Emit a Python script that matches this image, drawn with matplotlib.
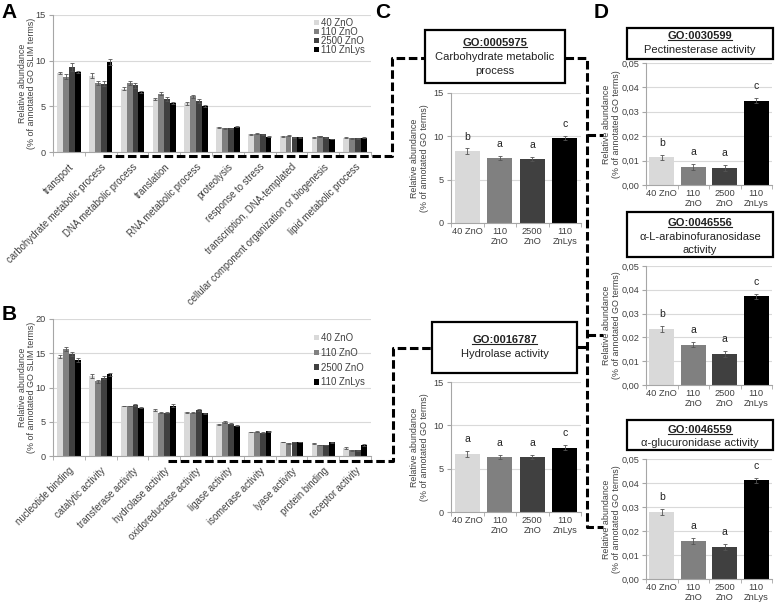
#!/usr/bin/env python3
"""GO term relative abundance: panels A-D (GO SLIM overview + selected terms)."""

import matplotlib
matplotlib.use("Agg")
import matplotlib.pyplot as plt
import numpy as np
from matplotlib.lines import Line2D
from matplotlib.patches import Rectangle
from matplotlib.ticker import FuncFormatter

plt.rcParams["font.family"] = ["Liberation Sans", "DejaVu Sans"]

W, H = 778, 605

SERIES = ["40 ZnO", "110 ZnO", "2500 ZnO", "110 ZnLys"]
COLORS = ["#d9d9d9", "#808080", "#404040", "#000000"]
BAR_TICKS = ["40 ZnO", "110\nZnO", "2500\nZnO", "110\nZnLys"]

# Panel A — biological process (GO SLIM)
A_CATS = ["transport", "carbohydrate metabolic process", "DNA metabolic process",
          "translation", "RNA metabolic process", "proteolysis", "response to stress",
          "transcription, DNA-templated",
          "cellular component organization or biogenesis", "lipid metabolic process"]
A_40 = [8.65, 8.35, 6.95, 5.8, 5.35, 2.7, 1.95, 1.7, 1.6, 1.55]
A_110 = [8.25, 7.55, 7.55, 6.4, 6.1, 2.62, 2.0, 1.78, 1.72, 1.48]
A_2500 = [9.3, 7.5, 7.3, 5.8, 5.55, 2.58, 1.95, 1.62, 1.62, 1.5]
A_LYS = [8.8, 9.85, 6.6, 5.4, 5.0, 2.78, 1.65, 1.6, 1.42, 1.55]
A_ERR_40 = [0.12, 0.3, 0.2, 0.15, 0.15, 0.05, 0.05, 0.05, 0.05, 0.04]
A_ERR_110 = [0.25, 0.25, 0.2, 0.2, 0.15, 0.05, 0.05, 0.05, 0.05, 0.04]
A_ERR_2500 = [0.4, 0.25, 0.3, 0.2, 0.2, 0.05, 0.05, 0.05, 0.05, 0.04]
A_ERR_LYS = [0.12, 0.3, 0.1, 0.1, 0.1, 0.05, 0.05, 0.04, 0.04, 0.04]

# Panel B — molecular function (GO SLIM)
B_CATS = ["nucleotide binding", "catalytic activity", "transferase activity",
          "hydrolase activity", "oxidoreductase activity", "ligase activity",
          "isomerase activity", "lyase activity", "protein binding", "receptor activity"]
B_40 = [14.5, 11.7, 7.3, 6.7, 6.4, 4.6, 3.5, 2.05, 1.85, 1.15]
B_110 = [15.6, 10.9, 7.3, 6.35, 6.3, 5.0, 3.55, 1.85, 1.6, 0.85]
B_2500 = [14.9, 11.45, 7.45, 6.35, 6.7, 4.7, 3.4, 2.05, 1.6, 0.85]
B_LYS = [14.0, 11.9, 7.05, 7.35, 6.25, 4.45, 3.6, 2.05, 2.0, 1.55]
B_ERR_40 = [0.25, 0.25, 0.05, 0.1, 0.08, 0.08, 0.05, 0.05, 0.12, 0.1]
B_ERR_110 = [0.3, 0.25, 0.05, 0.06, 0.06, 0.12, 0.05, 0.05, 0.05, 0.05]
B_ERR_2500 = [0.3, 0.25, 0.08, 0.06, 0.1, 0.06, 0.05, 0.05, 0.05, 0.05]
B_ERR_LYS = [0.3, 0.15, 0.05, 0.2, 0.06, 0.06, 0.05, 0.05, 0.08, 0.15]

# Panel C — selected GO terms (% of annotated GO terms)
C1_VALS = [8.3, 7.5, 7.4, 9.8]
C1_ERR = [0.3, 0.25, 0.2, 0.25]
C1_SIG = ["b", "a", "a", "c"]
C2_VALS = [6.7, 6.35, 6.35, 7.4]
C2_ERR = [0.3, 0.25, 0.25, 0.3]
C2_SIG = ["a", "a", "a", "c"]

# Panel D — carbohydrate-active terms
D1_VALS = [0.0113, 0.0073, 0.0069, 0.0346]
D1_ERR = [0.0012, 0.0013, 0.0013, 0.0010]
D1_SIG = ["b", "a", "a", "c"]
D2_VALS = [0.0237, 0.0170, 0.0131, 0.0373]
D2_ERR = [0.0013, 0.0012, 0.0012, 0.0010]
D2_SIG = ["b", "a", "a", "c"]
D3_VALS = [0.0279, 0.0158, 0.0134, 0.0411]
D3_ERR = [0.0013, 0.0013, 0.0012, 0.0010]
D3_SIG = ["b", "a", "a", "c"]

TXT = "#404040"
AXC = "#a6a6a6"
GRID = "#d9d9d9"


def fx(x):
    return x / W


def fy(y):
    return 1 - y / H


def add_axes(fig, x0, y0, x1, y1):
    return fig.add_axes([fx(x0), fy(y1), (x1 - x0) / W, (y1 - y0) / H])


def style(ax, n):
    for s in ("top", "right"):
        ax.spines[s].set_visible(False)
    for s in ("left", "bottom"):
        ax.spines[s].set_color(AXC)
        ax.spines[s].set_linewidth(0.8)
    ax.yaxis.grid(True, color=GRID, linewidth=0.8)
    ax.set_axisbelow(True)
    ax.set_xlim(-0.5, n - 0.5)
    ax.set_xticks(np.arange(n))
    ax.set_xticks(np.arange(n + 1) - 0.5, minor=True)
    ax.tick_params(axis="x", which="major", length=0)
    ax.tick_params(axis="x", which="minor", length=3, color=AXC)
    ax.tick_params(axis="y", length=3, color=AXC, labelsize=6.6,
                   labelcolor=TXT, pad=2)


def grouped(ax, cats, vals, errs, ymax, step, legend_kw):
    n = len(cats)
    x = np.arange(n)
    w = 0.74 / 4
    for i, (v, e) in enumerate(zip(vals, errs)):
        ax.bar(x + (i - 1.5) * w, v, w, yerr=e, color=COLORS[i], label=SERIES[i],
               error_kw=dict(ecolor="#555555", elinewidth=0.6, capsize=1.3,
                             capthick=0.6))
    style(ax, n)
    ax.set_ylim(0, ymax)
    ax.set_yticks(np.arange(0, ymax + 0.1, step))
    ax.set_xticklabels(cats, rotation=45, ha="right", rotation_mode="anchor",
                       fontsize=6.9, color=TXT)
    ax.tick_params(axis="x", which="major", pad=7)
    ax.set_ylabel("Relative abundance\n(% of annotated GO SLIM terms)",
                  fontsize=6.4, color=TXT, labelpad=-0.5, linespacing=1.1)
    leg = ax.legend(frameon=False, fontsize=6.9, handlelength=0.5, handleheight=0.5,
                    handletextpad=0.3, borderaxespad=0.2, **legend_kw)
    for t in leg.get_texts():
        t.set_color(TXT)


def single(ax, vals, errs, sig, ymax, step, fmt=None, labelpad=2):
    x = np.arange(len(vals))
    ax.bar(x, vals, 0.78, yerr=errs, color=COLORS,
           error_kw=dict(ecolor="#555555", elinewidth=0.6, capsize=1.5, capthick=0.6))
    style(ax, len(vals))
    ax.set_ylim(0, ymax)
    ax.set_yticks(np.arange(0, ymax + step / 2, step))
    if fmt:
        ax.yaxis.set_major_formatter(FuncFormatter(fmt))
    ax.set_xticklabels(BAR_TICKS, fontsize=6.7, color=TXT, linespacing=1.05)
    ax.tick_params(axis="x", which="major", pad=3)
    ax.set_ylabel("Relative abundance\n(% of annotated GO terms)",
                  fontsize=6.4, color=TXT, labelpad=labelpad, linespacing=1.1)
    for xi, v, e, s in zip(x, vals, errs, sig):
        ax.annotate(s, (xi, v + e), xytext=(0, 5), textcoords="offset points",
                    ha="center", va="bottom", fontsize=7.5, color="#222222")


def comma(v, _):
    return f"{v:.2f}".replace(".", ",")


fig = plt.figure(figsize=(W / 100, H / 100), dpi=100)

# Panel A
axA = add_axes(fig, 53, 15, 371, 152)
grouped(axA, A_CATS, [A_40, A_110, A_2500, A_LYS],
        [A_ERR_40, A_ERR_110, A_ERR_2500, A_ERR_LYS], 15, 5,
        dict(loc="upper right", bbox_to_anchor=(1.0, 1.02), labelspacing=-0.1))

# Panel B
axB = add_axes(fig, 53, 319, 371, 456)
grouped(axB, B_CATS, [B_40, B_110, B_2500, B_LYS],
        [B_ERR_40, B_ERR_110, B_ERR_2500, B_ERR_LYS], 20, 5,
        dict(loc="upper right", bbox_to_anchor=(1.0, 0.94), labelspacing=0.5))

# Panel C
axC1 = add_axes(fig, 451, 93, 581, 223)
single(axC1, C1_VALS, C1_ERR, C1_SIG, 15, 5, labelpad=3.5)
axC2 = add_axes(fig, 451, 382, 581, 512)
single(axC2, C2_VALS, C2_ERR, C2_SIG, 15, 5, labelpad=3.5)

# Panel D
axD1 = add_axes(fig, 646, 63, 772, 185)
single(axD1, D1_VALS, D1_ERR, D1_SIG, 0.05, 0.01, comma, labelpad=0)
axD2 = add_axes(fig, 646, 266, 772, 385)
single(axD2, D2_VALS, D2_ERR, D2_SIG, 0.05, 0.01, comma, labelpad=0)
axD3 = add_axes(fig, 646, 459, 772, 579)
single(axD3, D3_VALS, D3_ERR, D3_SIG, 0.05, 0.01, comma, labelpad=0)

# Panel letters
for letter, (px, py) in {"A": (9, 13), "B": (9, 315), "C": (383, 13),
                         "D": (601, 13)}.items():
    fig.text(fx(px), fy(py), letter, fontsize=15, fontweight="bold",
             ha="center", va="center")

# Dashed connectors
DASH = dict(color="black", linewidth=2.2, linestyle=(0, (2.8, 1.2)),
            transform=fig.transFigure, solid_capstyle="butt", dash_capstyle="butt")
paths = [
    [(103, 156), (392, 156), (392, 58), (425, 58)],
    [(168, 461), (393, 461), (393, 348), (432, 348)],
    [(565, 58), (587, 58), (587, 527), (603, 527)],
    [(587, 135), (603, 135)],
    [(587, 335), (603, 335)],
    [(577, 347), (587, 347)],
]
for p in paths:
    xs, ys = zip(*p)
    fig.add_artist(Line2D([fx(v) for v in xs], [fy(v) for v in ys], **DASH))

# GO term boxes: (x0, y0, x1, y1), GO id, description lines, line y positions
boxes = [
    ((425, 30, 565, 83), "GO:0005975", ["Carbohydrate metabolic", "process"], [43, 57, 71]),
    ((432, 322, 577, 373), "GO:0016787", ["Hydrolase activity"], [340, 354]),
    ((627, 28, 773, 59), "GO:0030599", ["Pectinesterase activity"], [36, 50]),
    ((627, 212, 773, 257), "GO:0046556", ["α-L-arabinofuranosidase", "activity"],
     [223, 237, 250]),
    ((627, 420, 773, 450), "GO:0046559", ["α-glucuronidase activity"], [430, 443]),
]
go_texts = []
for (x0, y0, x1, y1), go, desc, ys in boxes:
    fig.add_artist(Rectangle((fx(x0), fy(y1)), (x1 - x0) / W, (y1 - y0) / H,
                             transform=fig.transFigure, facecolor="white",
                             edgecolor="black", linewidth=1.6, zorder=5))
    cx = fx((x0 + x1) / 2)
    t = fig.text(cx, fy(ys[0]), go, fontsize=8, fontweight="bold", ha="center",
                 va="center", color="#222222", zorder=6)
    go_texts.append(t)
    for d, yy in zip(desc, ys[1:]):
        fig.text(cx, fy(yy), d, fontsize=8, ha="center", va="center",
                 color="#222222", zorder=6)

# underline the GO identifiers
fig.canvas.draw()
inv = fig.transFigure.inverted()
for t in go_texts:
    bb = t.get_window_extent().transformed(inv)
    fig.add_artist(Line2D([bb.x0, bb.x1], [bb.y0 + 0.001, bb.y0 + 0.001],
                          transform=fig.transFigure, color="#222222",
                          linewidth=0.8, zorder=6))

fig.savefig("out.png", dpi=100)
